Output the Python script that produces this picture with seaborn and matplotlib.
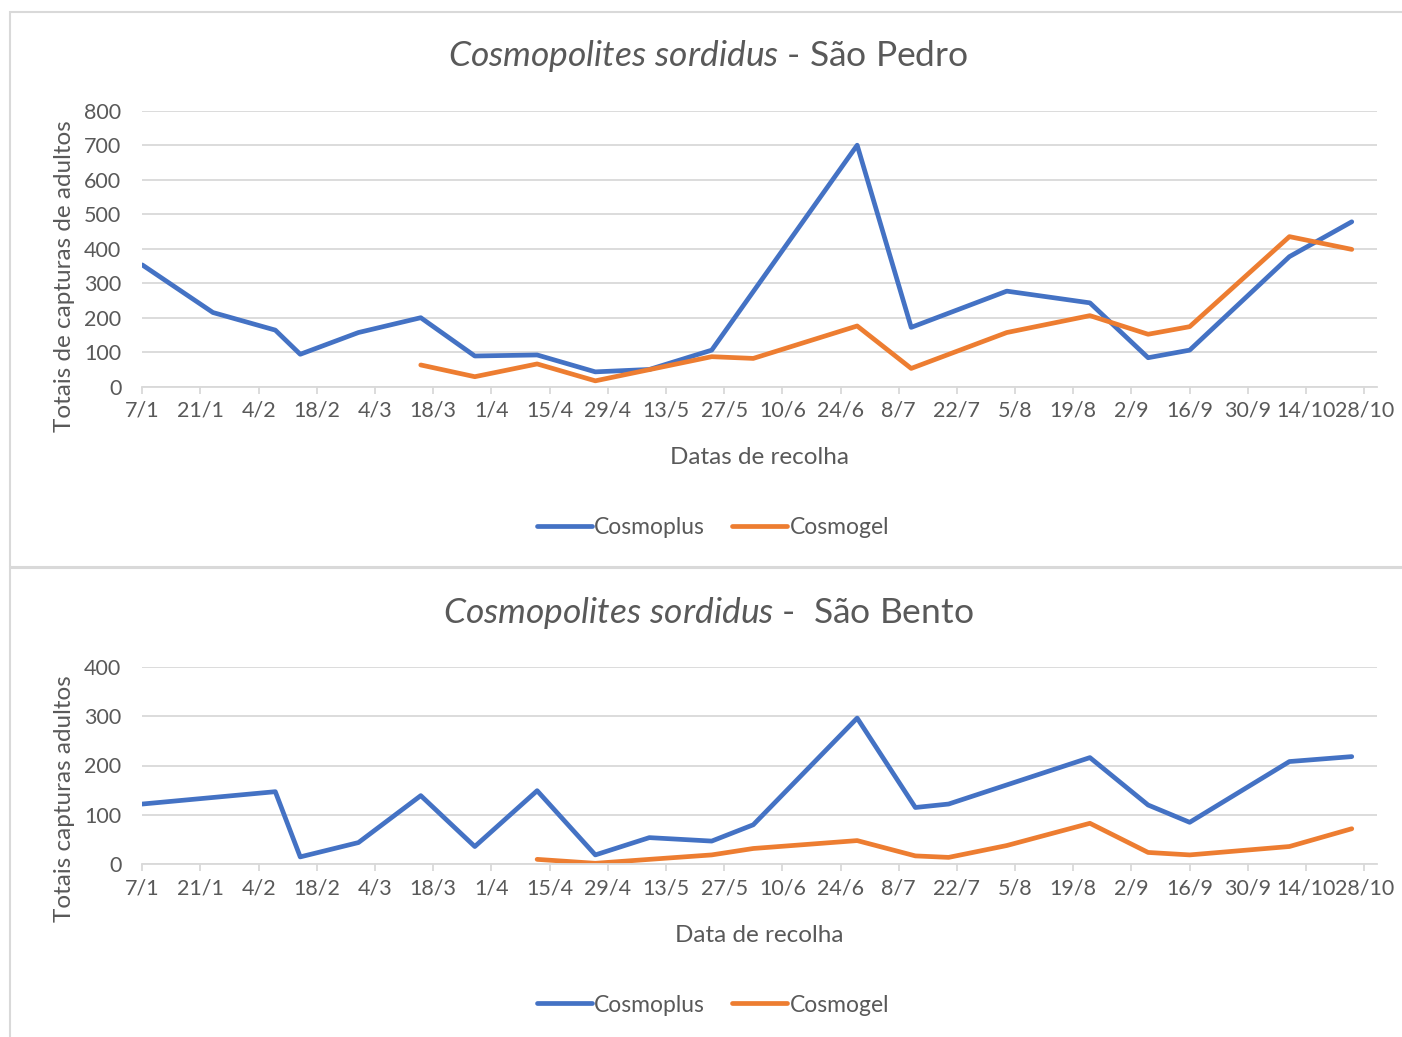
import pandas as pd
import matplotlib
matplotlib.use("Agg")
import matplotlib.pyplot as plt
from matplotlib.patches import Rectangle
import seaborn as sns

# --- data --------------------------------------------------------------------
PEDRO_PLUS_DATES = ["2019-01-07", "2019-01-24", "2019-02-08", "2019-02-14", "2019-02-28",
                    "2019-03-15", "2019-03-28", "2019-04-12", "2019-04-26", "2019-05-09",
                    "2019-05-24", "2019-06-28", "2019-07-11", "2019-08-03", "2019-08-23",
                    "2019-09-06", "2019-09-16", "2019-10-10", "2019-10-25"]
PEDRO_PLUS = [353, 215, 164, 94, 157, 200, 89, 92, 43, 50, 106, 700, 172, 277, 243, 84, 106,
              377, 478]
PEDRO_GEL_DATES = ["2019-03-15", "2019-03-28", "2019-04-12", "2019-04-26", "2019-05-24",
                   "2019-06-03", "2019-06-28", "2019-07-11", "2019-08-03", "2019-08-23",
                   "2019-09-06", "2019-09-16", "2019-10-10", "2019-10-25"]
PEDRO_GEL = [63, 29, 66, 17, 87, 82, 176, 53, 157, 206, 152, 174, 435, 398]

BENTO_PLUS_DATES = ["2019-01-07", "2019-02-08", "2019-02-14", "2019-02-28", "2019-03-15",
                    "2019-03-28", "2019-04-12", "2019-04-26", "2019-05-09", "2019-05-24",
                    "2019-06-03", "2019-06-28", "2019-07-12", "2019-07-20", "2019-08-23",
                    "2019-09-06", "2019-09-16", "2019-10-10", "2019-10-25"]
BENTO_PLUS = [122, 147, 15, 44, 139, 36, 149, 19, 54, 47, 80, 296, 115, 122, 216, 120, 85, 208,
              218]
BENTO_GEL_DATES = ["2019-04-12", "2019-04-26", "2019-05-09", "2019-05-24", "2019-06-03",
                   "2019-06-28", "2019-07-12", "2019-07-20", "2019-08-03", "2019-08-23",
                   "2019-09-06", "2019-09-16", "2019-10-10", "2019-10-25"]
BENTO_GEL = [10, 2, 10, 19, 32, 48, 17, 14, 38, 83, 24, 19, 36, 72]

SERIES = ["Cosmoplus", "Cosmogel"]
COLORS = {"Cosmoplus": "#4472C4", "Cosmogel": "#ED7D31"}
TICK_DATES = pd.date_range("2019-01-07", "2019-10-28", freq="14D")
TICK_LABELS = [f"{d.day}/{d.month}" for d in TICK_DATES]

GREY = "#595959"
GRID = "#D9D9D9"
FONT = "Lato"
LW = 3.4

sns.set_theme(style="white")
plt.rcParams["font.family"] = [FONT, "DejaVu Sans"]
plt.rcParams["mathtext.fontset"] = "custom"
plt.rcParams["mathtext.rm"] = FONT
plt.rcParams["mathtext.it"] = FONT + ":italic"


def make_df(plus_dates, plus, gel_dates, gel):
    a = pd.DataFrame({"data": pd.to_datetime(plus_dates), "total": plus, "serie": SERIES[0]})
    b = pd.DataFrame({"data": pd.to_datetime(gel_dates), "total": gel, "serie": SERIES[1]})
    return pd.concat([a, b], ignore_index=True)


def draw_panel(ax, df, ymax, ystep, ylabel, xlabel, ylabel_y):
    sns.lineplot(data=df, x="data", y="total", hue="serie", hue_order=SERIES,
                 palette=COLORS, linewidth=LW, ax=ax, legend=False,
                 solid_capstyle="round", solid_joinstyle="round")
    start = pd.Timestamp("2019-01-07")
    ax.set_xlim(start, start + pd.Timedelta(days=297))
    ax.set_ylim(0, ymax)
    ax.set_yticks(range(0, ymax + 1, ystep))
    ax.set_xticks(TICK_DATES)
    ax.set_xticklabels(TICK_LABELS)
    ax.grid(axis="y", color=GRID, linewidth=1.3)
    ax.set_axisbelow(True)
    for s in ["top", "left", "right"]:
        ax.spines[s].set_visible(False)
    ax.spines["bottom"].set_color(GRID)
    ax.spines["bottom"].set_linewidth(1.3)
    ax.tick_params(axis="x", length=5, width=1.3, color=GRID, pad=5,
                   labelsize=15.5, labelcolor=GREY, bottom=True)
    ax.tick_params(axis="y", length=0, pad=15, labelsize=15.5, labelcolor=GREY)
    ax.set_ylabel(ylabel, fontsize=17.5, color=GREY)
    ax.yaxis.set_label_coords(-0.0545, ylabel_y)
    ax.set_xlabel(xlabel, fontsize=17.5, color=GREY, labelpad=19)


fig = plt.figure(figsize=(14.02, 10.37), dpi=100)
W, H = 1402, 1037

# chart frames
fig.patches.append(Rectangle((10 / W, 1 - 567 / H), 1.0, 555 / H, transform=fig.transFigure,
                             fill=False, edgecolor=GRID, linewidth=1.5))
fig.patches.append(Rectangle((10 / W, -0.01), 1.0, 1 - 568 / H + 0.01,
                             transform=fig.transFigure, fill=False, edgecolor=GRID,
                             linewidth=1.5))

ax1 = fig.add_axes([142.3 / W, 1 - 386.7 / H, 1234.4 / W, 276 / H])
ax2 = fig.add_axes([142.3 / W, 1 - 864.3 / H, 1234.4 / W, 197.6 / H])

draw_panel(ax1, make_df(PEDRO_PLUS_DATES, PEDRO_PLUS, PEDRO_GEL_DATES, PEDRO_GEL),
           800, 100, "Totais de capturas de adultos", "Datas de recolha", 0.40)
draw_panel(ax2, make_df(BENTO_PLUS_DATES, BENTO_PLUS, BENTO_GEL_DATES, BENTO_GEL),
           400, 100, "Totais capturas adultos", "Data de recolha", 0.33)

fig.text(708 / W, 1 - 56 / H, r"$\it{Cosmopolites\ sordidus}$ - São Pedro",
         ha="center", va="center", fontsize=25.5, color=GREY)
fig.text(708 / W, 1 - 613 / H, r"$\it{Cosmopolites\ sordidus}$ -  São Bento",
         ha="center", va="center", fontsize=25.5, color=GREY)

handles = [plt.Line2D([], [], color=COLORS[s], linewidth=LW, solid_capstyle="round")
           for s in SERIES]
for yc in (528, 1005):
    fig.legend(handles, SERIES, loc="center", bbox_to_anchor=(713 / W, 1 - yc / H),
               ncol=2, frameon=False, fontsize=16.5, labelcolor=GREY, handlelength=2.4,
               handletextpad=0.1, columnspacing=1.2)

fig.savefig("out.png", dpi=100)
